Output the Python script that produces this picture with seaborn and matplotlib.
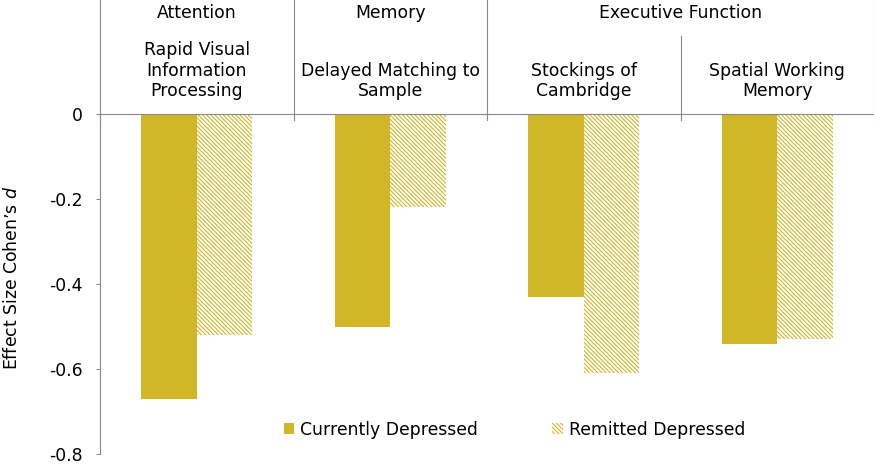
import matplotlib
matplotlib.use("Agg")
import matplotlib.pyplot as plt
import matplotlib.transforms as mtransforms
from matplotlib.patches import Patch
from matplotlib.lines import Line2D
import seaborn as sns
import pandas as pd

# ---- data ----
subtests = ["Rapid Visual\nInformation\nProcessing", "Delayed Matching to\nSample",
            "Stockings of\nCambridge", "Spatial Working\nMemory"]
domains = ["Attention", "Memory", "Executive Function"]
series = ["Currently Depressed", "Remitted Depressed"]
current = [-0.67, -0.50, -0.43, -0.54]
remitted = [-0.52, -0.22, -0.61, -0.53]
yticks = [0, -0.2, -0.4, -0.6, -0.8]
ytick_labels = ["0", "-0.2", "-0.4", "-0.6", "-0.8"]

GOLD = "#D1B627"
GREY = "#898989"
FS = 12.4
HATCH = "\\" * 8

plt.rcParams["axes.unicode_minus"] = False
plt.rcParams["font.family"] = ["DejaVu Sans"]
plt.rcParams["hatch.linewidth"] = 0.8

df = pd.DataFrame({
    "subtest": subtests * 2,
    "group": [series[0]] * 4 + [series[1]] * 4,
    "d": current + remitted,
})

W, H = 874, 465
fig = plt.figure(figsize=(W / 100, H / 100), dpi=100)
ybot = 454
ax = fig.add_axes([100 / W, (H - ybot) / H, 774 / W, (ybot - 114) / H])

sns.barplot(data=df, x="subtest", y="d", hue="group", hue_order=series,
            order=subtests, palette=[GOLD, GOLD], saturation=1, width=0.574, gap=0,
            linewidth=0, errorbar=None, legend=False, ax=ax)

for p in ax.containers[1]:
    p.set_facecolor("white")
    p.set_edgecolor(GOLD)
    p.set_hatch(HATCH)
    p.set_linewidth(0)

ax.set_xlim(-0.5, 3.5)
ax.set_ylim(-0.8, 0)
ax.set_yticks(yticks)
ax.set_yticklabels(ytick_labels, fontsize=FS)
ax.tick_params(axis="y", direction="out", length=3, width=0.75, color=GREY, pad=9.4)
ax.set_xticks([])
ax.set_xlabel("")
ax.set_ylabel("Effect Size Cohen\u2019s $\\it{d}$", fontsize=FS)
ax.yaxis.set_label_coords(-0.102, (ybot - 278) / (ybot - 114))

for s in ["right", "bottom"]:
    ax.spines[s].set_visible(False)
for s in ["left", "top"]:
    ax.spines[s].set_color(GREY)
    ax.spines[s].set_linewidth(0.8)

# header region (above zero line)
tr = mtransforms.blended_transform_factory(ax.transData, fig.transFigure)
def fy(ypix):
    return 1 - ypix / H

for xb, ytop in [(-0.5, 0), (0.5, 0), (1.5, 0), (2.5, 36), (3.5, 0)]:
    ax.add_line(Line2D([xb, xb], [fy(ytop), fy(120)], transform=tr,
                       color=GREY, lw=0.8, clip_on=False))

for x, lab in zip([0, 1, 2.5], domains):
    ax.text(x, fy(18.5), lab, transform=tr, ha="center", va="baseline",
            fontsize=FS, clip_on=False)
for i, lab in enumerate(subtests):
    ax.text(i, fy(100.5), lab, transform=tr, ha="center", va="bottom",
            fontsize=FS, clip_on=False, linespacing=1.2)

handles = [Patch(facecolor=GOLD, edgecolor=GOLD, linewidth=0),
           Patch(facecolor="white", edgecolor=GOLD, hatch=HATCH, linewidth=0)]
ax.legend(handles, series, loc="center", bbox_to_anchor=(0.5355, (ybot - 430) / (ybot - 114)),
          ncol=2, frameon=False, fontsize=FS, handlelength=0.6, handleheight=0.6,
          handletextpad=0.35, columnspacing=4.3)

fig.savefig("out.png", dpi=100)
